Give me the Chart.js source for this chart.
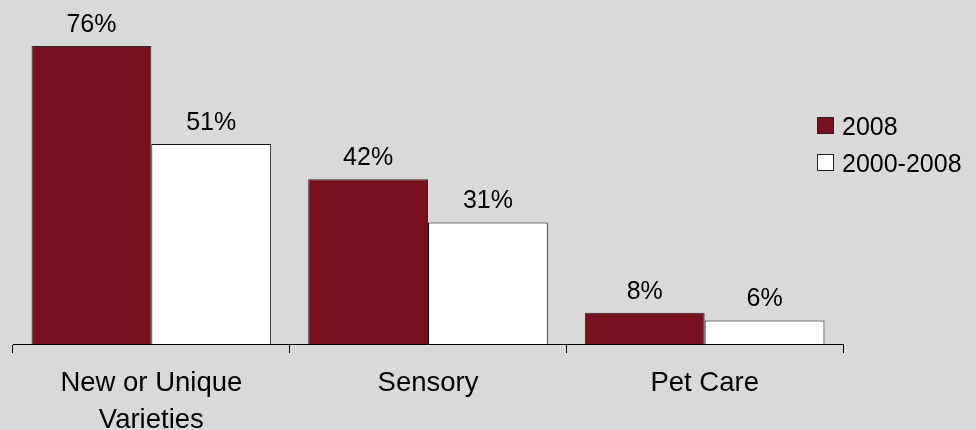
<!DOCTYPE html>
<html>
<head>
<meta charset="utf-8">
<script src="https://cdn.jsdelivr.net/npm/chart.js@4"></script>
<style>
  html, body { margin: 0; padding: 0; background: #d9d9d9; }
  #wrap { width: 976px; height: 430px; }
</style>
</head>
<body>
<div id="wrap"><canvas id="chart" width="976" height="430"></canvas></div>
<script>
// Chart data
const categories = [["New or Unique", "Varieties"], "Sensory", "Pet Care"];
const seriesNames = ["2008", "2000-2008"];
const values2008 = [76, 42, 8];
const values2000to2008 = [51, 31, 6];
const seriesColors = ["#78111d", "#ffffff"];

const FONT = "'Liberation Sans', Arial, sans-serif";

// Paints the grey page background behind everything
const backgroundPlugin = {
  id: "bg",
  beforeDraw(chart) {
    const ctx = chart.ctx;
    ctx.save();
    ctx.fillStyle = "#d9d9d9";
    ctx.fillRect(0, 0, chart.width, chart.height);
    ctx.restore();
  }
};

// Percent labels above each bar
const valueLabelPlugin = {
  id: "valueLabels",
  afterDatasetsDraw(chart) {
    const ctx = chart.ctx;
    ctx.save();
    ctx.font = "25px " + FONT;
    ctx.fillStyle = "#000";
    ctx.textAlign = "center";
    ctx.textBaseline = "alphabetic";
    chart.data.datasets.forEach((ds, i) => {
      chart.getDatasetMeta(i).data.forEach((bar, j) => {
        ctx.fillText(ds.data[j] + "%", bar.x, bar.y - 14);
      });
    });
    ctx.restore();
  }
};

// Legend on the right with square swatches
const sideLegendPlugin = {
  id: "sideLegend",
  afterDraw(chart) {
    const ctx = chart.ctx;
    ctx.save();
    ctx.font = "25px " + FONT;
    ctx.textAlign = "left";
    ctx.textBaseline = "alphabetic";
    chart.data.datasets.forEach((ds, i) => {
      const top = 117 + i * 37;
      ctx.fillStyle = ds.backgroundColor;
      ctx.fillRect(817, top, 16, 16);
      ctx.strokeStyle = "#222";
      ctx.lineWidth = 1;
      ctx.strokeRect(817.5, top + 0.5, 16, 16);
      ctx.fillStyle = "#000";
      ctx.fillText(ds.label, 842, top + 18);
    });
    ctx.restore();
  }
};

new Chart(document.getElementById("chart"), {
  type: "bar",
  data: {
    labels: categories,
    datasets: [
      {
        label: seriesNames[0],
        data: values2008,
        backgroundColor: seriesColors[0],
        borderColor: "#2a2a2a",
        borderWidth: 1
      },
      {
        label: seriesNames[1],
        data: values2000to2008,
        backgroundColor: seriesColors[1],
        borderColor: "#111",
        borderWidth: 1
      }
    ]
  },
  options: {
    responsive: false,
    devicePixelRatio: 1,
    animation: false,
    events: [],
    layout: { padding: { top: 30.4, right: 133, left: 13, bottom: 0 } },
    datasets: {
      bar: { barPercentage: 1.0, categoryPercentage: 0.866 }
    },
    plugins: {
      legend: { display: false },
      tooltip: { enabled: false }
    },
    scales: {
      y: {
        display: false,
        min: 0,
        max: 80
      },
      x: {
        offset: true,
        grid: {
          offset: true,
          drawOnChartArea: false,
          drawTicks: true,
          tickLength: 9,
          color: "#000",
          lineWidth: 1
        },
        border: { display: true, color: "#000", width: 1 },
        ticks: {
          color: "#000",
          padding: 12.5,
          maxRotation: 0,
          autoSkip: false,
          font: { family: FONT, size: 27.5, lineHeight: 1.33 }
        },
        afterFit(scale) { scale.height = 86; }
      }
    }
  },
  plugins: [backgroundPlugin, valueLabelPlugin, sideLegendPlugin]
});
</script>
</body>
</html>
